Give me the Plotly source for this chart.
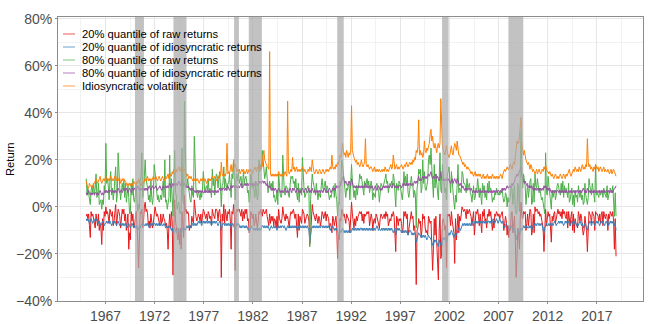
import pandas as pd
import plotly.graph_objects as go

# Monthly observations, Jan 1965 - Dec 2018 (values in percent, one row per year)
start_month = "1965-01-01"

raw_q20 = [
    -4, -3, -5, -3, -8, -13, -2, -4, -3, -5, -6, -9,
    -3, -6, -8, -3, -10, -7, -9, -16, -5, -10, -2, -4,
    0, -3, -2, -4, -7, -1, -2, -4, -2, -8, -6, -3,
    1, -8, -5, -1, -2, -4, -9, -3, -1, -3, -1, -6,
    -3, -10, -4, -3, -18, -11, -14, -2, -6, -3, -9, -8,
    -5, -2, -8, -14, -26, -10, -2, -3, -1, -9, -6, 0,
    2, -2, -1, -3, -8, -6, -9, -3, -6, -9, -7, -1,
    0, -2, -4, -3, -5, -7, -8, -3, -7, -6, -3, -5,
    -6, -8, -7, -10, -18, -8, -3, -9, -2, -6, -29, -10,
    3, -6, -8, -12, -14, -10, -16, -9, -18, -2, -11, -13,
    5, -2, -1, -3, -2, -3, -10, -8, -9, -4, -6, -7,
    3, -2, -4, -6, -5, -3, -4, -6, -3, -7, -4, -1,
    -2, -4, -5, -3, -6, -2, -3, -5, -4, -8, -1, -3,
    -4, -5, -1, -1, -2, -6, -2, -1, -5, -30, -3, -6,
    1, -7, -1, -5, -6, -2, -3, -1, -6, -18, -2, -3,
    1, -4, -27, -2, -1, -2, -1, -1, -3, -4, -1, -6,
    -2, -5, -1, -3, -1, -6, -5, -11, -10, -2, -3, -5,
    -3, -8, -7, -3, -6, -9, -6, -2, -3, -1, -2, -4,
    -1, -2, -3, -2, -1, -4, -6, -8, -3, -7, -4, -6,
    -4, -8, -5, -6, -9, -4, -9, -1, -5, -6, -7, -5,
    0, -3, -5, -6, -3, -5, -4, -6, -9, -4, -2, -3,
    -2, -1, -3, -5, -3, -7, -13, -3, -10, -4, -6, -7,
    -1, -2, -3, -7, -5, -4, -3, -4, -6, -16, -12, -3,
    1, -2, -3, -5, -6, -3, -5, -7, -4, -5, -8, -6,
    -2, -3, -5, -3, -2, -6, -3, -4, -5, -9, -7, -8,
    -11, -4, -5, -8, -6, -4, -9, -22, -12, -14, -5, -6,
    -1, -2, -4, -3, -5, -7, -3, -4, -5, -6, -11, -4,
    2, -3, -7, -9, -5, -8, -4, -6, -4, -3, -2, -3,
    -2, -6, -3, -7, -3, -4, -3, -2, -3, -2, -8, -4,
    -3, -5, -10, -6, -5, -7, -3, -4, -6, -7, -9, -5,
    -3, -4, -5, -4, -3, -5, -2, -4, -3, -8, -6, -5,
    -6, -3, -4, -2, -4, -10, -19, -4, -5, -8, -5, -6,
    -5, -7, -11, -9, -2, -4, -2, -5, -3, -12, -9, -7,
    -4, -2, -5, -4, -10, -8, -12, -33, -10, -9, -5, -7,
    -6, -13, -10, -3, -5, -4, -9, -11, -10, -12, -4, -5,
    -7, -6, -15, -27, -18, -5, -12, -4, -15, -21, -31, -10,
    -3, -22, -20, -6, -5, -7, -10, -8, -26, -3, -4, -3,
    -4, -8, -2, -6, -9, -11, -24, -5, -14, -6, -3, -11,
    -4, -6, -3, 0, -1, -2, -1, -2, -5, -1, -3, -2,
    -1, -3, -4, -8, -5, -2, -12, -7, -2, -3, -1, -4,
    -8, -3, -7, -11, -2, -4, -1, -6, -5, -9, -3, -4,
    -1, -4, -2, -5, -10, -6, -9, -3, -4, -2, -3, -4,
    -3, -5, -4, -3, -2, -5, -10, -7, -4, -6, -12, -8,
    -13, -9, -10, -3, -2, -11, -8, -4, -14, -30, -22, -9,
    -11, -18, -6, 2, -4, -5, -2, -3, -2, -10, -7, -3,
    -8, -2, -1, -2, -12, -10, -3, -11, 0, -2, -1, -1,
    -3, -2, -4, -3, -5, -6, -9, -19, -12, -1, -8, -5,
    -2, -4, -3, -9, -15, -4, -6, -3, -2, -7, -5, -3,
    -1, -3, -2, -4, -2, -5, -1, -3, -2, -4, -5, -2,
    -9, -2, -6, -8, -4, -2, -10, -3, -11, -5, -7, -8,
    -9, -2, -4, -6, -3, -5, -9, -12, -10, -4, -7, -10,
    -19, -6, -2, -3, -4, -7, -2, -3, -4, -10, -2, -3,
    -3, -4, -6, -3, -7, -3, -2, -8, -2, -4, -5, -3,
    -4, -10, -3, -5, -2, -3, -4, -2, -6, -18, -5, -21,
]

idio_q20 = [
    -5, -6, -5, -6, -7, -6, -5, -6, -7, -6, -6, -5,
    -6, -5, -6, -7, -6, -7, -8, -7, -6, -7, -8, -7,
    -7, -6, -7, -6, -7, -6, -7, -8, -7, -6, -7, -6,
    -7, -8, -7, -6, -7, -8, -7, -8, -7, -8, -7, -8,
    -7, -8, -9, -8, -7, -8, -9, -8, -7, -8, -9, -8,
    -9, -8, -9, -10, -9, -8, -9, -8, -7, -8, -7, -8,
    -8, -7, -8, -7, -8, -9, -8, -7, -8, -7, -8, -7,
    -7, -8, -7, -8, -7, -8, -7, -8, -7, -8, -8, -7,
    -8, -9, -8, -9, -8, -9, -8, -9, -10, -9, -11, -10,
    -9, -10, -11, -10, -9, -10, -11, -10, -12, -10, -9, -10,
    -9, -10, -9, -8, -9, -8, -9, -8, -9, -8, -7, -8,
    -7, -8, -7, -8, -7, -6, -7, -6, -7, -8, -7, -6,
    -7, -6, -7, -6, -7, -6, -7, -6, -7, -8, -7, -6,
    -7, -6, -7, -6, -7, -8, -7, -6, -7, -10, -8, -7,
    -7, -8, -7, -8, -7, -8, -7, -8, -7, -9, -8, -7,
    -8, -9, -10, -8, -7, -8, -7, -8, -9, -8, -9, -8,
    -8, -9, -8, -9, -8, -9, -10, -9, -10, -9, -8, -9,
    -9, -10, -9, -10, -9, -10, -9, -10, -9, -10, -9, -8,
    -8, -9, -8, -9, -8, -9, -8, -9, -10, -9, -8, -9,
    -9, -8, -9, -8, -9, -10, -9, -8, -9, -8, -9, -8,
    -8, -9, -8, -9, -10, -9, -8, -9, -8, -9, -8, -9,
    -8, -9, -8, -9, -8, -9, -10, -9, -8, -9, -8, -9,
    -8, -9, -8, -9, -8, -9, -8, -9, -10, -15, -11, -9,
    -9, -8, -9, -8, -9, -8, -9, -8, -9, -8, -9, -8,
    -8, -9, -8, -9, -8, -9, -8, -9, -8, -9, -10, -9,
    -9, -8, -9, -10, -9, -10, -9, -11, -12, -11, -10, -11,
    -10, -9, -10, -11, -10, -11, -10, -11, -10, -11, -10, -11,
    -10, -9, -10, -9, -10, -9, -10, -9, -10, -9, -10, -9,
    -9, -10, -9, -10, -9, -10, -9, -10, -9, -10, -9, -10,
    -9, -10, -9, -10, -9, -10, -9, -8, -9, -10, -9, -10,
    -10, -9, -10, -9, -10, -9, -10, -9, -10, -9, -10, -9,
    -10, -9, -10, -11, -10, -9, -12, -10, -9, -10, -9, -10,
    -10, -11, -10, -11, -10, -11, -10, -11, -10, -12, -11, -10,
    -10, -11, -12, -11, -12, -11, -12, -15, -13, -12, -11, -12,
    -12, -13, -12, -13, -12, -13, -12, -13, -14, -13, -12, -13,
    -13, -14, -15, -16, -17, -14, -15, -14, -15, -16, -17, -14,
    -15, -16, -17, -14, -13, -14, -13, -14, -15, -13, -12, -11,
    -12, -11, -10, -11, -12, -13, -12, -11, -12, -11, -10, -9,
    -9, -10, -9, -8, -7, -8, -7, -8, -7, -8, -7, -8,
    -7, -8, -7, -6, -7, -8, -7, -6, -7, -6, -7, -6,
    -7, -6, -7, -6, -7, -6, -7, -6, -7, -6, -7, -6,
    -6, -7, -6, -7, -6, -5, -6, -7, -6, -5, -6, -7,
    -6, -5, -6, -7, -6, -7, -8, -9, -8, -7, -8, -9,
    -9, -8, -9, -8, -9, -10, -9, -10, -12, -14, -12, -11,
    -10, -12, -10, -9, -10, -9, -8, -9, -8, -9, -8, -9,
    -9, -8, -9, -8, -10, -9, -8, -7, -8, -7, -8, -7,
    -7, -8, -7, -8, -7, -8, -10, -11, -9, -8, -7, -8,
    -8, -7, -8, -7, -8, -7, -8, -7, -6, -7, -8, -7,
    -7, -6, -7, -6, -7, -6, -7, -8, -7, -6, -7, -6,
    -7, -6, -7, -8, -7, -6, -7, -8, -7, -6, -7, -8,
    -7, -8, -7, -6, -7, -8, -7, -9, -8, -7, -8, -9,
    -10, -8, -7, -6, -7, -8, -7, -6, -7, -8, -7, -6,
    -7, -6, -7, -8, -7, -6, -7, -6, -7, -8, -7, -6,
    -7, -6, -8, -7, -6, -7, -6, -7, -6, -8, -7, -10,
]

raw_q80 = [
    12, 5, 8, 6, 3, 1, 7, 9, 6, 10, 5, 8,
    14, 4, 5, 10, 1, 2, 3, -1, 3, 1, 9, 6,
    27, 10, 12, 9, 3, 11, 15, 5, 8, 3, 6, 12,
    17, 2, 5, 23, 12, 8, 3, 9, 10, 7, 11, 4,
    10, 2, 8, 9, 4, -3, -2, 10, 5, 12, 3, 2,
    5, 9, 3, -2, 1, -1, 11, 13, 23, 4, 6, 15,
    20, 12, 10, 8, 3, 5, 2, 11, 4, 1, 5, 18,
    15, 10, 4, 3, 5, 2, 3, 5, 3, 6, 11, 4,
    20, 2, 3, -1, 3, 4, 22, 2, 12, 5, -4, 8,
    24, 6, 5, -1, 1, 2, -2, -3, -1, 25, 3, 1,
    45, 15, 10, 9, 12, 8, 5, 3, 2, 9, 5, 4,
    30, 11, 8, 6, 4, 7, 5, 3, 6, 4, 8, 15,
    10, 6, 8, 9, 7, 12, 6, 8, 7, 4, 16, 9,
    12, 5, 11, 14, 13, 8, 12, 15, 8, 0, 9, 10,
    17, 8, 12, 9, 7, 10, 10, 14, 9, 4, 14, 12,
    20, 7, 3, 12, 14, 11, 15, 10, 12, 13, 8, 10,
    15, 10, 12, 13, 11, 6, 7, 2, 4, 14, 12, 8,
    10, 5, 4, 10, 6, 3, 5, 20, 15, 18, 16, 24,
    20, 15, 12, 14, 17, 12, 6, 8, 11, 8, 10, 7,
    11, 4, 5, 2, 3, 7, 1, 14, 6, 5, 4, 6,
    22, 7, 6, 5, 9, 8, 8, 5, 4, 9, 13, 12,
    13, 10, 11, 8, 12, 6, 3, 10, 2, 8, 6, 5,
    21, 12, 8, 4, 5, 7, 8, 9, 6, -17, 3, 10,
    14, 11, 9, 7, 5, 10, 4, 3, 6, 5, 4, 9,
    12, 8, 7, 10, 11, 6, 9, 8, 6, 3, 5, 4,
    6, 8, 9, 4, 10, 5, 3, -4, 2, 1, 11, 9,
    20, 18, 14, 10, 9, 4, 8, 7, 9, 10, 3, 16,
    18, 11, 6, 4, 7, 3, 9, 5, 8, 10, 14, 12,
    13, 9, 7, 5, 11, 8, 10, 12, 9, 11, 6, 8,
    11, 8, 3, 6, 5, 4, 9, 10, 8, 7, 2, 8,
    10, 9, 8, 9, 10, 12, 14, 10, 11, 6, 9, 10,
    9, 11, 8, 14, 12, 5, 0, 10, 9, 7, 11, 10,
    8, 6, 3, 7, 15, 10, 13, 9, 14, 6, 4, 7,
    12, 13, 10, 9, 4, 7, 5, -9, 8, 10, 16, 14,
    16, 6, 8, 20, 10, 15, 8, 7, 9, 11, 20, 22,
    18, 25, 17, 6, 4, 18, 8, 14, 9, 5, 3, 12,
    23, 7, 6, 18, 14, 12, 6, 8, 3, 14, 15, 17,
    12, 6, 15, 9, 7, 2, -1, 5, 2, 9, 18, 6,
    8, 7, 6, 15, 14, 10, 10, 9, 6, 12, 8, 9,
    10, 6, 5, 2, 6, 9, 3, 4, 8, 7, 12, 8,
    4, 8, 3, 1, 10, 7, 9, 4, 6, 3, 10, 6,
    11, 7, 8, 6, 2, 4, 3, 6, 5, 8, 7, 5,
    6, 5, 6, 7, 8, 4, 2, 3, 6, 5, 0, 4,
    2, 3, 4, 9, 8, 1, 6, 9, -1, -3, -2, 10,
    8, -2, 12, 32, 15, 8, 14, 10, 9, 1, 5, 10,
    4, 8, 11, 12, 1, 2, 10, 2, 14, 9, 8, 12,
    7, 6, 8, 5, 3, 4, 2, 0, -3, 23, 6, 5,
    13, 9, 5, 3, -1, 7, 4, 6, 7, 3, 5, 9,
    10, 8, 7, 5, 10, 6, 11, 4, 9, 6, 8, 5,
    4, 10, 2, 3, 6, 8, 1, 5, 0, 7, 4, 5,
    2, 9, 6, 4, 7, 3, 5, 1, 2, 10, 5, 3,
    1, 4, 12, 9, 6, 5, 10, 6, 5, 2, 18, 5,
    6, 5, 4, 7, 5, 6, 7, 4, 8, 6, 5, 4,
    9, 3, 5, 6, 8, 7, 6, 9, 2, -4, 6, -4,
]

idio_q80 = [
    6, 5, 6, 7, 6, 5, 6, 5, 6, 6, 5, 6,
    6, 5, 6, 5, 6, 7, 6, 5, 6, 5, 6, 7,
    6, 7, 6, 7, 6, 7, 7, 6, 7, 6, 7, 6,
    7, 6, 7, 8, 7, 6, 7, 7, 6, 7, 8, 7,
    7, 8, 7, 6, 7, 8, 7, 6, 7, 8, 7, 8,
    8, 7, 8, 9, 8, 7, 8, 7, 8, 7, 8, 7,
    8, 7, 8, 7, 8, 9, 8, 7, 8, 9, 8, 8,
    8, 9, 8, 7, 8, 8, 9, 8, 7, 8, 9, 8,
    8, 9, 8, 9, 8, 9, 10, 9, 8, 9, 10, 9,
    10, 9, 10, 9, 10, 11, 10, 9, 10, 11, 10, 9,
    10, 9, 8, 9, 8, 9, 8, 7, 8, 7, 8, 7,
    7, 6, 7, 6, 7, 6, 7, 6, 7, 6, 7, 6,
    6, 7, 6, 7, 6, 7, 6, 7, 6, 7, 7, 6,
    7, 6, 7, 6, 7, 6, 7, 8, 7, 8, 7, 8,
    8, 7, 8, 7, 8, 9, 8, 7, 8, 9, 8, 9,
    9, 8, 9, 8, 9, 8, 9, 8, 9, 10, 9, 8,
    9, 10, 9, 10, 9, 10, 9, 10, 10, 9, 10, 9,
    10, 9, 10, 11, 10, 9, 10, 11, 10, 11, 10, 11,
    11, 10, 11, 10, 9, 10, 9, 8, 9, 8, 7, 8,
    7, 8, 7, 8, 7, 6, 7, 8, 7, 6, 7, 6,
    7, 6, 7, 8, 7, 6, 7, 6, 7, 8, 7, 6,
    8, 7, 8, 7, 6, 7, 8, 7, 6, 7, 6, 7,
    8, 7, 6, 7, 8, 7, 6, 7, 8, 6, 7, 6,
    8, 7, 6, 7, 6, 7, 6, 7, 6, 7, 6, 7,
    7, 6, 7, 8, 7, 6, 7, 6, 7, 8, 7, 6,
    7, 8, 7, 8, 7, 8, 9, 8, 9, 8, 9, 10,
    11, 12, 13, 11, 10, 11, 10, 9, 10, 11, 10, 9,
    12, 10, 9, 8, 9, 8, 9, 8, 9, 8, 9, 8,
    9, 8, 9, 8, 9, 10, 9, 8, 9, 8, 9, 8,
    8, 9, 8, 7, 8, 9, 8, 7, 8, 9, 8, 7,
    8, 7, 8, 9, 8, 9, 8, 9, 8, 9, 8, 9,
    9, 8, 9, 10, 9, 8, 9, 8, 9, 8, 9, 9,
    9, 8, 9, 10, 9, 10, 9, 10, 9, 10, 9, 10,
    10, 9, 10, 9, 10, 11, 10, 11, 10, 12, 13, 11,
    12, 11, 12, 13, 12, 13, 12, 13, 12, 13, 14, 13,
    14, 15, 13, 12, 13, 12, 13, 14, 12, 13, 12, 11,
    13, 15, 12, 11, 12, 11, 12, 11, 12, 11, 12, 11,
    11, 10, 11, 12, 10, 11, 12, 11, 10, 12, 11, 10,
    9, 10, 9, 8, 9, 8, 7, 8, 7, 8, 7, 8,
    8, 7, 8, 7, 6, 7, 6, 7, 6, 7, 6, 7,
    7, 6, 7, 6, 7, 6, 7, 6, 7, 6, 7, 6,
    6, 7, 6, 7, 6, 7, 6, 7, 6, 7, 6, 7,
    7, 6, 7, 6, 7, 8, 7, 8, 7, 8, 9, 8,
    8, 9, 8, 9, 10, 9, 10, 11, 12, 13, 14, 13,
    14, 15, 16, 17, 13, 12, 11, 10, 11, 10, 9, 9,
    9, 8, 9, 8, 9, 8, 7, 8, 7, 8, 7, 8,
    7, 8, 7, 8, 7, 8, 7, 9, 8, 9, 8, 7,
    8, 7, 8, 7, 6, 7, 6, 7, 6, 7, 6, 7,
    7, 6, 7, 6, 7, 6, 7, 6, 7, 6, 7, 6,
    6, 7, 6, 7, 6, 7, 6, 7, 6, 7, 6, 7,
    7, 6, 7, 6, 7, 6, 7, 8, 7, 6, 7, 6,
    8, 7, 6, 7, 6, 7, 6, 7, 6, 7, 6, 7,
    6, 7, 6, 7, 6, 7, 6, 7, 6, 7, 6, 7,
    7, 6, 7, 6, 7, 6, 7, 6, 7, 8, 8, 9,
]

idio_vol = [
    11, 9, 8, 8, 10, 9, 9, 8, 9, 10, 10, 11,
    12, 11, 10, 11, 12, 13, 11, 10, 11, 12, 11, 12,
    13, 12, 11, 12, 11, 12, 13, 11, 12, 11, 12, 13,
    12, 11, 13, 12, 11, 12, 10, 11, 12, 11, 12, 11,
    11, 10, 9, 10, 9, 10, 9, 10, 9, 10, 11, 10,
    10, 9, 11, 10, 12, 11, 10, 9, 10, 11, 10, 11,
    12, 11, 12, 13, 11, 12, 11, 12, 11, 12, 13, 12,
    12, 13, 12, 11, 12, 13, 12, 11, 12, 13, 12, 11,
    12, 13, 12, 13, 14, 12, 13, 14, 13, 15, 14, 16,
    15, 14, 16, 15, 16, 17, 16, 15, 17, 16, 15, 16,
    16, 15, 14, 13, 14, 12, 13, 12, 13, 12, 11, 12,
    12, 11, 12, 11, 12, 11, 10, 11, 12, 11, 12, 11,
    11, 12, 11, 10, 11, 12, 11, 12, 11, 12, 13, 12,
    12, 13, 12, 11, 12, 13, 12, 14, 13, 19, 14, 13,
    13, 14, 13, 15, 27, 14, 15, 14, 16, 18, 15, 16,
    20, 17, 18, 16, 15, 16, 15, 16, 14, 15, 16, 15,
    16, 15, 14, 15, 16, 14, 15, 16, 15, 16, 15, 14,
    15, 16, 17, 16, 15, 17, 16, 18, 17, 16, 18, 17,
    22, 24, 20, 19, 18, 17, 17, 16, 66, 14, 13, 14,
    13, 14, 13, 14, 13, 14, 13, 15, 14, 13, 14, 13,
    14, 13, 14, 15, 14, 13, 45, 15, 14, 15, 16, 15,
    21, 16, 17, 15, 16, 17, 15, 16, 15, 16, 15, 16,
    17, 16, 15, 16, 15, 14, 15, 16, 15, 17, 16, 15,
    20, 16, 15, 14, 15, 16, 15, 14, 15, 16, 15, 14,
    15, 16, 15, 14, 15, 16, 15, 16, 15, 16, 17, 16,
    22, 17, 16, 17, 16, 18, 17, 19, 18, 20, 22, 21,
    25, 27, 24, 22, 23, 21, 24, 22, 21, 23, 22, 24,
    43, 24, 22, 21, 20, 19, 20, 18, 19, 18, 17, 18,
    20, 18, 17, 18, 19, 29, 18, 17, 18, 17, 16, 17,
    17, 16, 15, 16, 17, 15, 16, 15, 16, 15, 16, 15,
    15, 16, 15, 16, 15, 17, 16, 15, 16, 15, 16, 17,
    18, 16, 17, 22, 17, 16, 17, 18, 16, 17, 16, 17,
    17, 18, 17, 16, 17, 18, 17, 19, 18, 17, 18, 19,
    18, 19, 18, 20, 19, 21, 20, 24, 23, 25, 37, 22,
    24, 22, 23, 21, 22, 28, 24, 23, 25, 24, 26, 27,
    31, 33, 28, 30, 26, 25, 27, 24, 23, 26, 27, 25,
    27, 46, 30, 26, 24, 23, 22, 24, 26, 23, 22, 21,
    22, 24, 26, 23, 22, 25, 27, 26, 24, 28, 25, 22,
    22, 21, 20, 19, 18, 19, 17, 18, 17, 16, 17, 16,
    16, 15, 14, 15, 14, 13, 14, 15, 13, 14, 13, 14,
    13, 14, 13, 12, 13, 14, 12, 13, 12, 13, 14, 12,
    13, 12, 13, 12, 14, 13, 12, 13, 12, 13, 12, 13,
    12, 13, 14, 13, 12, 14, 15, 16, 15, 16, 17, 16,
    16, 17, 18, 17, 16, 18, 19, 18, 21, 25, 28, 27,
    27, 30, 33, 38, 27, 24, 22, 24, 21, 20, 19, 18,
    19, 17, 16, 18, 17, 15, 16, 15, 14, 15, 16, 14,
    15, 16, 15, 14, 15, 16, 15, 17, 16, 18, 16, 15,
    15, 14, 15, 14, 13, 14, 13, 12, 13, 14, 13, 12,
    13, 12, 13, 14, 13, 12, 13, 14, 13, 12, 14, 13,
    14, 15, 16, 14, 13, 14, 15, 16, 15, 17, 16, 15,
    16, 15, 17, 16, 15, 17, 18, 16, 17, 16, 18, 17,
    29, 19, 17, 18, 16, 17, 16, 15, 17, 16, 18, 17,
    16, 17, 15, 16, 17, 16, 15, 16, 17, 15, 16, 15,
    15, 16, 15, 14, 15, 16, 14, 15, 16, 15, 14, 13,
]

series_names = [
    "20% quantile of raw returns",
    "20% quantile of idiosyncratic returns",
    "80% quantile of raw returns",
    "80% quantile of idiosyncratic returns",
    "Idiosyncratic volatility",
]
series_colors = ["#E41A1C", "#377EB8", "#4DAF4A", "#984EA3", "#FF7F00"]

recession_starts = ["1970-01-01", "1973-12-01", "1980-02-01", "1981-08-01",
                    "1990-08-01", "2001-04-01", "2008-01-01"]
recession_ends = ["1970-11-30", "1975-03-31", "1980-07-31", "1982-11-30",
                  "1991-03-31", "2001-11-30", "2009-06-30"]

x_tick_years = list(range(1967, 2018, 5))
x_minor_years = list(range(1964, 2020, 5))
y_tick_values = [-0.4, -0.2, 0.0, 0.2, 0.4, 0.6, 0.8]
y_tick_labels = ["\u221240%", "\u221220%", "0%", "20%", "40%", "60%", "80%"]
y_minor_values = [-0.3, -0.1, 0.1, 0.3, 0.5, 0.7]

all_series = [raw_q20, idio_q20, raw_q80, idio_q80, idio_vol]
n_months = len(raw_q20)
for s in all_series:
    assert len(s) == n_months, len(s)

months = pd.date_range(start_month, periods=n_months, freq="MS") + pd.Timedelta(days=14)

FONT = "Liberation Sans, Arial, Helvetica, sans-serif"

fig = go.Figure()
for name, color, values in zip(series_names, series_colors, all_series):
    fig.add_trace(go.Scatter(
        x=months, y=[v / 100 for v in values], mode="lines", name=name,
        line=dict(color=color, width=1), showlegend=False,
    ))

for s, e in zip(recession_starts, recession_ends):
    fig.add_shape(type="rect", xref="x", yref="paper", x0=s, x1=e, y0=0, y1=1,
                  fillcolor="rgb(170,170,170)", opacity=0.72, line_width=0,
                  layer="above")

# Legend drawn inside the panel (compact rows like the original)
plot_left, plot_right, plot_top, plot_bottom = 58, 643, 17, 301
pw = plot_right - plot_left
ph = plot_bottom - plot_top
legend_rows_px = [34, 47, 60, 73, 86]
for name, color, row in zip(series_names, series_colors, legend_rows_px):
    yp = (plot_bottom - row) / ph
    fig.add_shape(type="line", xref="paper", yref="paper",
                  x0=5 / pw, x1=17 / pw, y0=yp, y1=yp,
                  line=dict(color=color, width=1.2), opacity=0.6, layer="above")
    fig.add_annotation(xref="paper", yref="paper", x=22 / pw, y=yp,
                       xanchor="left", yanchor="middle", showarrow=False,
                       text=name, font=dict(family=FONT, size=11.2, color="black"))

fig.add_annotation(xref="paper", yref="paper", x=(10 - plot_left) / pw, y=0.5,
                   xanchor="center", yanchor="middle", showarrow=False,
                   text="Return", textangle=-90,
                   font=dict(family=FONT, size=11.2, color="black"))

grid_major = "#e6e6e6"
grid_minor = "#f2f2f2"
tick_font = dict(family=FONT, size=14, color="#4d4d4d")

fig.update_layout(
    width=648, height=324,
    margin=dict(l=plot_left, r=648 - plot_right, t=plot_top, b=324 - plot_bottom),
    paper_bgcolor="white", plot_bgcolor="white",
    font=dict(family=FONT, color="black"),
    showlegend=False,
    xaxis=dict(
        type="date", automargin=False,
        range=["1962-03-03", "2021-09-12"],
        tickmode="array",
        tickvals=[f"{y}-01-01" for y in x_tick_years],
        ticktext=[str(y) for y in x_tick_years],
        tickfont=tick_font,
        showgrid=True, gridcolor=grid_major, gridwidth=1,
        minor=dict(tickmode="array", tickvals=[f"{y}-07-02" for y in x_minor_years],
                   showgrid=True, gridcolor=grid_minor, gridwidth=1),
        showline=True, linecolor="#8c8c8c", linewidth=1, mirror=True,
        ticks="outside", ticklen=2, tickcolor="#8c8c8c",
        zeroline=False,
    ),
    yaxis=dict(
        automargin=False,
        range=[-0.40, 0.807],
        tickmode="array",
        tickvals=y_tick_values, ticktext=y_tick_labels,
        tickfont=tick_font,
        showgrid=True, gridcolor=grid_major, gridwidth=1,
        minor=dict(tickmode="array", tickvals=y_minor_values,
                   showgrid=True, gridcolor=grid_minor, gridwidth=1),
        showline=True, linecolor="#8c8c8c", linewidth=1, mirror=True,
        ticks="outside", ticklen=2, tickcolor="#8c8c8c",
        zeroline=False,
    ),
)

# Remove the browser's default page margin so the 648x324 figure fills the window.
fig.write_html(
    "out.html",
    config={"displayModeBar": False},
    post_script="document.body.style.margin='0';document.body.style.overflow='hidden';",
)
